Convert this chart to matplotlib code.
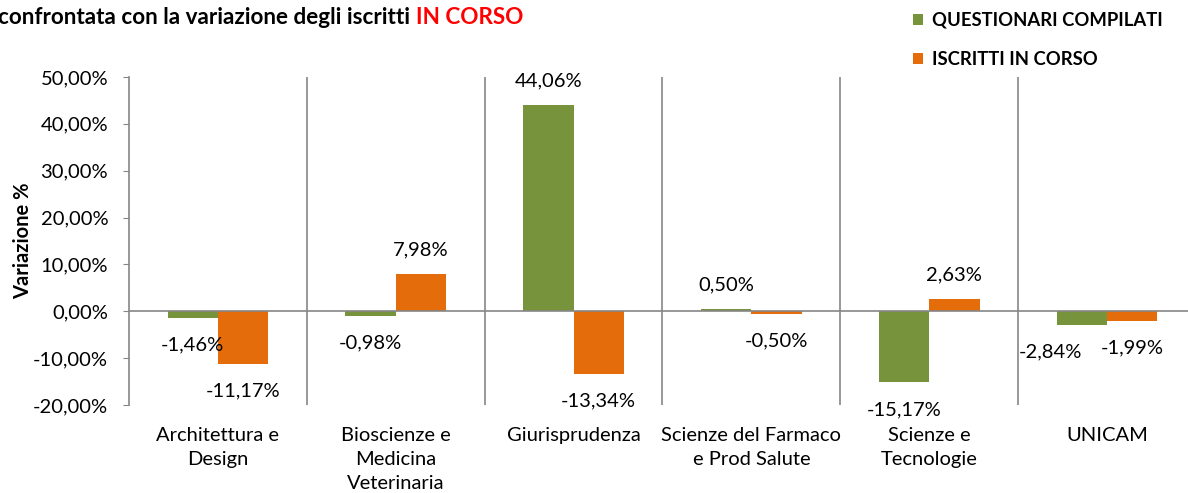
import matplotlib
matplotlib.use('Agg')

import numpy as np
import matplotlib.pyplot as plt

plt.rcParams['font.family'] = ['Lato', 'DejaVu Sans']

categories = ["Architettura e\nDesign", "Bioscienze e\nMedicina\nVeterinaria", "Giurisprudenza",
              "Scienze del Farmaco\ne Prod Salute", "Scienze e\nTecnologie", "UNICAM"]
questionari = [-1.46, -0.98, 44.06, 0.50, -15.17, -2.84]
iscritti = [-11.17, 7.98, -13.34, -0.50, 2.63, -1.99]
series_names = ["QUESTIONARI COMPILATI", "ISCRITTI IN CORSO"]
yticks = [-20, -10, 0, 10, 20, 30, 40, 50]

green = '#77933C'
orange = '#E46C0A'
gray = '#868686'
fs = 14.5

def fmt(v):
    return ("%.2f%%" % v).replace('.', ',')

fig = plt.figure(figsize=(11.88, 4.93), dpi=100)
ax = fig.add_axes([129/1188, 88/493, 1067/1188, 328/493])

ind = np.arange(len(categories))
width = 0.283

b1 = ax.bar(ind - width/2, questionari, width, color=green, label=series_names[0])
b2 = ax.bar(ind + width/2, iscritti, width, color=orange, label=series_names[1])

# data labels, outside end
label_dx = {(0, 5): -23}
for s, (bars, vals) in enumerate([(b1, questionari), (b2, iscritti)]):
    for i, (r, v) in enumerate(zip(bars, vals)):
        dy = 17 if v >= 0 else -19.5
        dx = label_dx.get((s, i), 0)
        ax.annotate(fmt(v), (r.get_x() + r.get_width()/2, v), xytext=(dx, dy),
                    textcoords='offset points', ha='center', va='center', fontsize=fs)

ax.set_xlim(-0.5, len(categories) - 0.5)
ax.set_ylim(-20, 50)
ax.set_yticks(yticks)
ax.set_yticklabels([fmt(t) for t in yticks], fontsize=fs)
ax.set_xticks(ind)
ax.set_xticklabels(categories, fontsize=fs, linespacing=1.5)
ax.tick_params(axis='x', length=0, pad=16)
ax.tick_params(axis='y', length=4, color=gray, direction='out', pad=11)

for b in ind[1:]:
    ax.axvline(b - 0.5, color=gray, lw=1.2, zorder=0)
ax.axhline(0, color=gray, lw=1.2, zorder=3)

for sp in ['top', 'right', 'bottom']:
    ax.spines[sp].set_visible(False)
ax.spines['left'].set_color(gray)
ax.spines['left'].set_linewidth(1.2)

ax.set_ylabel('Variazione %', fontsize=fs, fontweight='bold')
ax.yaxis.set_label_coords(-96/1067, 0.5)

leg = fig.legend(handles=[b1, b2], loc='upper left', bbox_to_anchor=(913/1188, 1 - 12/493),
                 frameon=False, prop={'size': 13.3, 'weight': 'bold'},
                 handlelength=0.55, handleheight=0.55, handletextpad=0.5, labelspacing=1.2,
                 borderaxespad=0, borderpad=0)

t1 = fig.text(-2/1188, 1 - 18/493, "confrontata con la variazione degli iscritti ",
              fontsize=16.2, fontweight='bold', va='center', ha='left')
fig.canvas.draw()
bb = t1.get_window_extent()
fig.text(bb.x1 / fig.bbox.width, 1 - 18/493, "IN CORSO", color='#FF0000',
         fontsize=16.2, fontweight='bold', va='center', ha='left')

plt.savefig('out.png', dpi=100)
